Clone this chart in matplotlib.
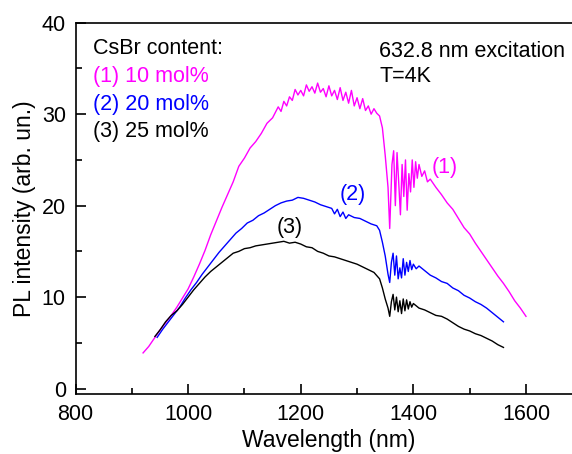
import matplotlib
matplotlib.use("Agg")
import matplotlib.pyplot as plt
from matplotlib.ticker import MultipleLocator

plt.rcParams['font.family'] = ['Liberation Sans', 'DejaVu Sans']

# PL spectra at 4 K for three CsBr contents
wl_1 = [920, 930, 940, 950, 960, 970, 980, 990, 1000, 1010, 1020, 1030, 1040, 1050,
        1060, 1070, 1080, 1090, 1100, 1110, 1120, 1130, 1140, 1150,
        1160, 1165, 1170, 1175, 1180, 1185, 1190, 1195, 1200, 1205, 1210, 1215, 1220,
        1225, 1230, 1235, 1240, 1245, 1250, 1255, 1260, 1265, 1270, 1275, 1280, 1285,
        1290, 1295, 1300, 1305, 1310, 1315, 1320, 1325, 1330, 1335, 1340,
        1345, 1350, 1355, 1358, 1362, 1365, 1368, 1371, 1374, 1377,
        1380, 1383, 1386, 1389, 1392, 1395, 1398, 1401, 1404, 1407, 1410, 1415, 1420,
        1425, 1430, 1440, 1450, 1460, 1470, 1480, 1490, 1500, 1510, 1520, 1530, 1540,
        1550, 1560, 1570, 1580, 1590, 1600]
pl_1 = [3.9, 4.6, 5.5, 6.4, 7.2, 8.0, 8.9, 9.9, 10.9, 12.2, 13.6, 15.1, 16.8, 18.3,
        19.8, 21.2, 22.6, 24.3, 25.2, 26.3, 27.0, 27.9, 29.0, 29.6,
        30.8, 30.3, 31.4, 30.9, 31.9, 31.5, 32.7, 32.1, 32.6, 32.0, 33.2, 32.5, 33.0,
        32.3, 33.4, 32.4, 32.8, 31.9, 33.1, 32.0, 32.6, 31.6, 32.9, 31.5, 32.4, 31.2,
        32.6, 30.9, 31.8, 30.6, 31.7, 30.4, 30.9, 30.0, 30.6, 30.1, 29.8,
        28.5, 25.5, 22.0, 17.5, 24.5, 26.0, 20.0, 25.8, 22.5, 19.0,
        24.5, 21.0, 25.0, 19.5, 23.5, 21.5, 25.0, 22.0, 24.8, 23.0, 24.5, 23.2, 23.8,
        22.6, 22.9, 22.0, 21.2, 20.3, 19.6, 18.6, 17.6, 16.9, 15.9, 15.0, 14.1, 13.2,
        12.3, 11.5, 10.6, 9.6, 8.8, 7.9]

wl_2 = [945, 955, 965, 975, 985, 995, 1005, 1015, 1025, 1035, 1045, 1055, 1065, 1075,
        1085, 1095, 1105, 1115, 1125, 1135, 1145, 1155, 1165, 1175, 1185, 1195, 1205,
        1215, 1225, 1235, 1245, 1255, 1260, 1265, 1270, 1275, 1280, 1285, 1295, 1305,
        1315, 1325, 1335,
        1340, 1345, 1350, 1355, 1358, 1361, 1364, 1367, 1370, 1373, 1376, 1379, 1382,
        1385, 1388, 1391, 1394, 1397, 1400, 1405, 1410, 1420, 1430, 1440, 1450, 1460,
        1470, 1480, 1490, 1500, 1510, 1520, 1530, 1540, 1550, 1560]
pl_2 = [5.6, 6.5, 7.3, 8.1, 8.9, 9.9, 10.8, 11.6, 12.5, 13.3, 14.1, 14.9, 15.6, 16.3,
        17.0, 17.5, 18.1, 18.4, 18.9, 19.2, 19.6, 20.0, 20.3, 20.5, 20.6, 20.9, 20.8,
        20.6, 20.4, 20.1, 19.9, 19.7, 19.1, 19.6, 18.8, 19.3, 18.6, 19.0, 18.7, 18.6,
        18.3, 18.0, 17.8,
        17.3, 16.0, 14.5, 12.5, 11.6, 13.8, 14.8, 12.4, 14.5, 12.0, 13.2, 12.1, 14.2,
        12.4, 13.8, 12.8, 14.0, 13.0, 13.6, 13.1, 13.4, 12.9, 12.4, 12.1, 11.7, 11.5,
        11.0, 10.7, 10.2, 9.9, 9.5, 9.2, 8.8, 8.3, 7.8, 7.3]

wl_3 = [941, 950, 960, 970, 980, 990, 1000, 1010, 1020, 1030, 1040, 1050, 1060, 1070,
        1080, 1090, 1100, 1110, 1120, 1130, 1140, 1150, 1160, 1170, 1180, 1190, 1200,
        1210, 1220, 1230, 1240, 1250, 1260, 1270, 1280, 1290, 1300, 1310, 1320, 1330,
        1340, 1345, 1350, 1355, 1358, 1361, 1364, 1367, 1370, 1373, 1376, 1379, 1382,
        1385, 1388, 1391, 1394, 1397, 1400, 1410, 1420, 1430, 1440, 1450, 1460, 1470,
        1480, 1490, 1500, 1510, 1520, 1530, 1540, 1550, 1560]
pl_3 = [5.7, 6.4, 7.3, 8.0, 8.5, 9.2, 10.0, 10.8, 11.5, 12.2, 12.8, 13.3, 13.8, 14.3,
        14.8, 15.0, 15.3, 15.4, 15.6, 15.7, 15.8, 15.9, 16.0, 16.1, 15.9, 16.0, 15.8,
        15.5, 15.4, 15.0, 14.8, 14.5, 14.4, 14.2, 14.0, 13.8, 13.6, 13.3, 13.0, 12.7,
        12.0, 11.0, 9.8, 8.8, 7.9, 9.5, 10.3, 8.6, 10.0, 8.4, 9.6, 8.2, 9.8,
        8.5, 9.7, 8.7, 9.5, 8.9, 9.3, 8.8, 8.6, 8.3, 8.0, 7.9, 7.6, 7.2,
        6.8, 6.5, 6.3, 6.0, 5.8, 5.5, 5.2, 4.8, 4.5]

legend_lines = ["(1) 10 mol%", "(2) 20 mol%", "(3) 25 mol%"]
curve_tags = ["(1)", "(2)", "(3)"]
colors = ["#ff00ff", "#0000ff", "#000000"]

fig = plt.figure(figsize=(5.72, 4.54), dpi=100)
ax = fig.add_axes([0.132, 0.132, 0.886, 0.818])

for wl, pl, c in zip([wl_1, wl_2, wl_3], [pl_1, pl_2, pl_3], colors):
    ax.plot(wl, pl, color=c, lw=1.0)

ax.set_xlim(800, 1700)
ax.set_ylim(-0.6, 40)
ax.xaxis.set_major_locator(MultipleLocator(200))
ax.xaxis.set_minor_locator(MultipleLocator(100))
ax.yaxis.set_major_locator(MultipleLocator(10))
ax.yaxis.set_minor_locator(MultipleLocator(5))
ax.tick_params(which='both', direction='in', labelsize=15.5, width=1.2)
ax.tick_params(which='major', length=7)
ax.tick_params(which='minor', length=4)
ax.tick_params(axis='x', pad=7)
ax.tick_params(axis='y', pad=7)
for s in ax.spines.values():
    s.set_linewidth(1.2)
ax.spines['right'].set_visible(False)

ax.set_xlabel("Wavelength (nm)", fontsize=16.5, labelpad=3)
ax.set_ylabel("PL intensity (arb. un.)", fontsize=16.5, labelpad=4)

fs = 15.5
ax.text(831, 37.2, "CsBr content:", fontsize=fs, color="black", va='center')
for i, (t, c) in enumerate(zip(legend_lines, colors)):
    ax.text(831, 34.1 - 3.0 * i, t, fontsize=fs, color=c, va='center')

ax.text(1339, 36.9, "632.8 nm excitation", fontsize=fs, va='center')
ax.text(1339, 34.1, "T=4K", fontsize=fs, va='center')

tag_pos = [(1456, 24.2), (1293, 21.2), (1181, 17.6)]
for t, (x, y), c in zip(curve_tags, tag_pos, colors):
    ax.text(x, y, t, fontsize=fs, color=c, ha='center', va='center')

fig.savefig("out.png", dpi=100)
